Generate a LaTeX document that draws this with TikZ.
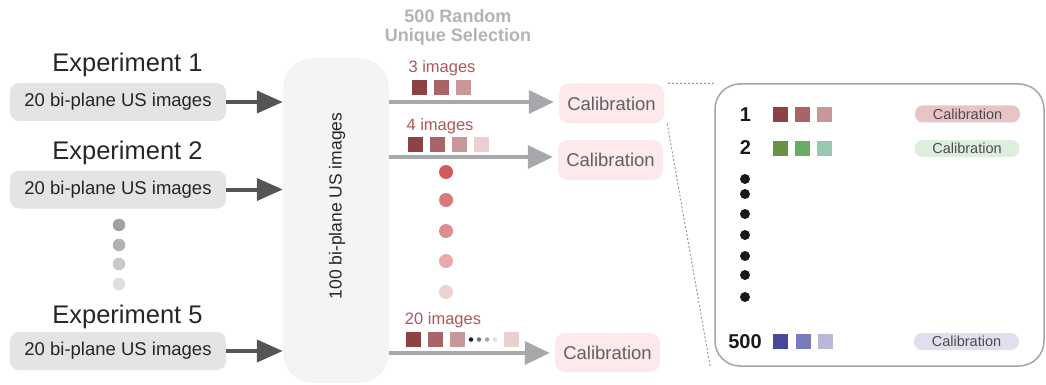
\documentclass[tikz,border=0pt]{standalone}
\usepackage{fontspec}
\setmainfont{Liberation Sans}
\usetikzlibrary{arrows.meta}
\newcommand{\fsz}[1]{\fontsize{#1}{#1}\selectfont}
\definecolor{expbox}{HTML}{E3E4E3}
\definecolor{bigbox}{HTML}{F3F5F4}
\definecolor{darkarr}{HTML}{555555}
\definecolor{grayarr}{HTML}{A7A8AB}
\definecolor{calpink}{HTML}{FDE9EB}
\definecolor{caltext}{HTML}{606164}
\definecolor{seltext}{HTML}{B3B3B3}
\definecolor{imgtext}{HTML}{B0555A}
\definecolor{rA}{HTML}{8E4244}
\definecolor{rB}{HTML}{A86466}
\definecolor{rC}{HTML}{C89899}
\definecolor{rD}{HTML}{ECD0D1}
\definecolor{gA}{HTML}{6A9244}
\definecolor{gB}{HTML}{68AD64}
\definecolor{gC}{HTML}{98C8B0}
\definecolor{bA}{HTML}{474A9A}
\definecolor{bB}{HTML}{7B7BBB}
\definecolor{bC}{HTML}{B8B8DC}
\definecolor{dA}{HTML}{D05A5C}
\definecolor{dB}{HTML}{D67A7B}
\definecolor{dC}{HTML}{DA8E90}
\definecolor{dD}{HTML}{E8AAAB}
\definecolor{dE}{HTML}{F0D0D1}
\definecolor{panelline}{HTML}{A5A5A7}
\definecolor{pillA}{HTML}{E8C4C6}
\definecolor{pillB}{HTML}{DCEFDC}
\definecolor{pillC}{HTML}{E2DEF0}
\tikzset{
  explabel/.style={anchor=base, text=black!85, font=\fsz{25.5}},
  expbox/.style={fill=expbox, rounded corners=9pt, minimum width=216pt, minimum height=38pt, inner sep=0pt, text=black!85, font=\fsz{18.5}},
  darrow/.style={draw=darkarr, line width=4pt, -{Triangle[length=26pt,width=22pt]}},
  garrow/.style={draw=grayarr, line width=3.5pt, -{Triangle[length=25pt,width=23pt]}, shorten >=5pt},
  calbox/.style={fill=calpink, rounded corners=10pt, minimum width=105pt, minimum height=40pt, inner sep=0pt, text=caltext, font=\fsz{18.5}},
  sq/.style={fill=#1, minimum size=15pt, inner sep=0pt},
  rdot/.style={circle, fill=#1, minimum size=14pt, inner sep=0pt},
  gdot/.style={circle, fill=#1, minimum size=12.5pt, inner sep=0pt},
  tdot/.style={circle, fill=#1, minimum size=4.5pt, inner sep=0pt},
  bdot/.style={circle, fill=black!90, minimum size=10pt, inner sep=0pt},
  imglabel/.style={text=imgtext, font=\fsz{16.5}},
  numlabel/.style={text=black!90, font=\bfseries\fsz{20}},
  pill/.style={fill=#1, rounded corners=8pt, minimum width=105pt, minimum height=17pt, inner sep=0pt, text=black!70, font=\fsz{14.5}},
  dotline/.style={draw=gray!80, line width=1pt, dash pattern=on 2pt off 2pt},
}
\begin{document}
\begin{tikzpicture}[x=1pt,y=-1pt]
\useasboundingbox (0,0) rectangle (1046,385);
% central box
\node[fill=bigbox, rounded corners=30pt, minimum width=106pt, minimum height=325pt, inner sep=0pt] (big) at (336,220.5) {};
\node[rotate=90, text=black!85, font=\fsz{17.5}] (bigtxt) at (337,206) {100 bi-plane US images};
% experiments
\node[explabel] (l1) at (127.5,72) {Experiment 1};
\node[explabel] (l2) at (127.5,159) {Experiment 2};
\node[explabel] (l5) at (127.5,323) {Experiment 5};
\node[expbox] (e1) at (118,102) {20 bi-plane US images};
\node[expbox] (e2) at (118,189.5) {20 bi-plane US images};
\node[expbox] (e5) at (118,351) {20 bi-plane US images};
\draw[darrow] (e1.east) -- (e1.east -| big.west);
\draw[darrow] (e2.east) -- (e2.east -| big.west);
\draw[darrow] (e5.east) -- (e5.east -| big.west);
\node[gdot=black!37] (g1) at (119,225) {};
\node[gdot=black!30] (g2) at (119,245) {};
\node[gdot=black!21] (g3) at (119,264) {};
\node[gdot=black!13] (g4) at (119,284) {};
% selection title
\node[text=seltext, font=\bfseries\fsz{18}] (t1) at (458,16) {500 Random};
\node[text=seltext, font=\bfseries\fsz{18}] (t2) at (458,37) {Unique Selection};
% calibration boxes
\node[calbox] (c1) at (611.5,103.5) {Calibration};
\node[calbox] (c2) at (610.5,160) {Calibration};
\node[calbox, minimum height=39pt] (c3) at (607.5,352.5) {Calibration};
\draw[garrow] (big.east |- 0,102) coordinate (s1) -- (c1.west |- s1);
\draw[garrow] (big.east |- 0,157) coordinate (s2) -- (c2.west |- s2);
\draw[garrow] (big.east |- 0,353) coordinate (s3) -- (c3.west |- s3);
% row 1
\node[imglabel] (i1) at (442,68) {3 images};
\node[sq=rA] (a1) at (419.5,88) {};
\node[sq=rB] (a2) at (441.5,88) {};
\node[sq=rC] (a3) at (463.5,88) {};
% row 2
\node[imglabel] (i2) at (440,126) {4 images};
\node[sq=rA] (b1) at (415.5,144.5) {};
\node[sq=rB] (b2) at (437.5,144.5) {};
\node[sq=rC] (b3) at (459.5,144.5) {};
\node[sq=rD] (b4) at (481.5,144.5) {};
% red dots
\node[rdot=dA] (r1) at (446,172) {};
\node[rdot=dB] (r2) at (446,200) {};
\node[rdot=dC] (r3) at (446,231) {};
\node[rdot=dD] (r4) at (446,261) {};
\node[rdot=dE] (r5) at (446,292) {};
% row 3
\node[imglabel] (i3) at (443,320) {20 images};
\node[sq=rA] (f1) at (413,339) {};
\node[sq=rB] (f2) at (435,339) {};
\node[sq=rC] (f3) at (457,339) {};
\node[tdot=black!90] (k1) at (471,339.5) {};
\node[tdot=black!55] (k2) at (479,339.5) {};
\node[tdot=black!35] (k3) at (487,339.5) {};
\node[tdot=black!12] (k4) at (495,339.5) {};
\node[sq=rD] (f4) at (511.5,339) {};
% right panel
\node[draw=panelline, line width=1.5pt, rounded corners=25pt, minimum width=329pt, minimum height=282pt, inner sep=0pt] (panel) at (879.5,225) {};
\draw[dotline] ([xshift=4pt]c1.north east) -- (panel.north west);
\draw[dotline] ([xshift=3pt]c1.south east) -- ([xshift=-4pt]panel.south west);
\node[numlabel] (n1) at (745.5,115) {1};
\node[sq=rA] (p1) at (780,115) {};
\node[sq=rB] (p2) at (802,115) {};
\node[sq=rC] (p3) at (824,115) {};
\node[pill=pillA] (q1) at (967.5,114) {Calibration};
\node[numlabel] (n2) at (745.5,148) {2};
\node[sq=gA] (p4) at (780,148) {};
\node[sq=gB] (p5) at (802,148) {};
\node[sq=gC] (p6) at (824,148) {};
\node[pill=pillB] (q2) at (967,148.5) {Calibration};
\node[bdot] (d1) at (745,179) {};
\node[bdot] (d2) at (745,194) {};
\node[bdot] (d3) at (745,214) {};
\node[bdot] (d4) at (745,235) {};
\node[bdot] (d5) at (745,256) {};
\node[bdot] (d6) at (745,275) {};
\node[bdot] (d7) at (745,297) {};
\node[numlabel] (n3) at (745,341.5) {500};
\node[sq=bA] (p7) at (780.5,341) {};
\node[sq=bB] (p8) at (803,341) {};
\node[sq=bC] (p9) at (825,341) {};
\node[pill=pillC] (q3) at (966.5,341.5) {Calibration};
\end{tikzpicture}
\end{document}
